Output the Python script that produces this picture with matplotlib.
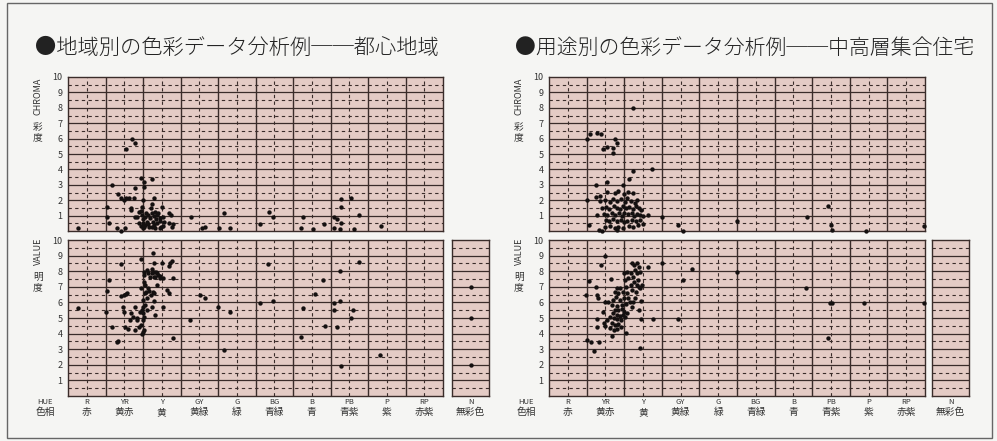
import matplotlib
matplotlib.use('Agg')
import matplotlib.pyplot as plt
import matplotlib.transforms as mtransforms
from matplotlib.patches import Rectangle

plt.rcParams['font.family'] = ['Noto Sans CJK JP', 'DejaVu Sans']

# %%
# labels
hue_codes = ['R', 'YR', 'Y', 'GY', 'G', 'BG', 'B', 'PB', 'P', 'RP']
hue_names = ['赤', '黄赤', '黄', '黄緑', '緑', '青緑', '青', '青紫', '紫', '赤紫']
titles = ['●地域別の色彩データ分析例──都心地域', '●用途別の色彩データ分析例──中高層集合住宅']

# %%
# 都心地域  hue (0-100) / chroma
city_c_hue = [19.4, 19.6, 19.9, 20.1, 20.3, 20.5, 20.8, 21.0, 21.4, 21.7, 21.9, 22.0, 22.3, 22.5,
              22.6, 22.8, 22.9, 23.2, 23.4, 23.6, 23.8, 24.1, 24.4, 24.5, 24.7, 25.0, 25.2, 25.4,
              25.6, 26.8, 27.0, 27.4, 27.6, 28.1, 24.4, 23.2, 22.3, 21.4, 20.6, 19.9, 19.6, 22.8,
              2.7, 17.0, 17.9, 15.5, 11.7, 13.2, 14.1, 14.8, 15.5, 16.3, 17.9, 19.4, 20.3, 20.3,
              22.5, 17.7, 10.3, 10.5, 10.8, 13.0, 14.0, 15.3, 16.7, 16.8, 17.9, 18.5, 18.8, 19.0,
              19.4, 20.1, 32.7, 35.6, 36.5, 40.3, 41.6, 43.2, 51.3, 53.7, 54.6, 62.1, 62.6, 65.4,
              68.3, 70.9, 71.8, 70.9, 72.4, 72.8, 72.7, 72.7, 75.4, 76.3, 77.6, 83.4]
city_c_val = [1.32, 1.04, 0.76, 0.50, 0.24, 0.89, 1.19, 0.61, 1.04, 0.28, 0.82, 1.47, 1.19, 1.75,
              0.61, 0.97, 0.39, 1.26, 0.76, 1.04, 0.50, 1.19, 0.82, 0.67, 0.28, 1.58, 0.93, 0.32,
              0.61, 1.15, 0.54, 1.04, 0.28, 0.45, 0.17, 0.17, 0.28, 0.46, 0.37, 0.17, 1.54, 2.12,
              0.18, 5.97, 5.73, 5.30, 2.97, 2.38, 2.12, 2.00, 2.16, 2.12, 2.80, 3.42, 3.20, 2.88,
              3.40, 2.12, 1.58, 0.89, 0.50, 0.18, 0.02, 0.21, 1.36, 1.50, 0.89, 0.93, 1.25, 0.50,
              0.34, 2.00, 0.93, 0.18, 0.28, 0.18, 1.15, 0.18, 0.44, 1.21, 0.93, 0.18, 0.93, 0.13,
              0.45, 0.93, 0.76, 0.21, 0.13, 0.50, 1.54, 2.06, 2.12, 0.13, 1.04, 0.34]

# 都心地域  hue / value
city_v_hue = [2.7, 10.1, 10.8, 10.5, 14.1, 11.6, 14.0, 14.8, 15.5, 15.7, 14.6, 15.0, 15.2, 16.1,
              16.5, 16.8, 17.4, 17.9, 17.9, 18.3, 18.5, 19.0, 19.1, 19.4, 19.5, 19.6, 19.9, 19.9,
              20.1, 20.3, 20.3, 20.3, 20.5, 20.8, 21.0, 21.1, 21.6, 22.3, 22.6, 22.8, 22.8, 22.9,
              23.0, 23.1, 22.4, 23.4, 23.6, 23.9, 24.5, 25.0, 25.2, 26.3, 26.9, 27.2, 27.6, 28.0,
              26.8, 25.2, 28.1, 22.9, 13.0, 13.2, 20.3, 21.0, 21.4, 21.9, 22.5, 23.2, 23.8, 24.4,
              20.5, 21.4, 22.0, 22.6, 20.1, 20.5, 19.6, 20.3, 19.4, 19.9, 32.5, 35.2, 36.5, 40.1,
              43.2, 41.7, 51.2, 53.4, 54.6, 62.0, 62.6, 65.9, 68.1, 68.5, 71.0, 70.8, 72.4, 71.8,
              72.5, 75.4, 76.1, 77.6, 72.7, 83.2]
city_v_val = [5.66, 5.40, 7.44, 6.73, 8.44, 4.40, 6.43, 6.47, 6.54, 6.60, 5.73, 5.40, 4.40, 4.27,
              4.87, 5.30, 5.04, 5.69, 4.23, 4.87, 5.00, 4.44, 5.40, 6.90, 8.76, 3.97, 4.87, 5.30,
              5.69, 4.23, 7.33, 7.97, 7.10, 6.69, 6.26, 5.50, 6.73, 7.90, 9.15, 8.50, 7.65, 7.97,
              6.63, 5.20, 5.70, 7.97, 7.10, 7.75, 7.54, 8.55, 7.58, 6.80, 6.60, 8.55, 8.66, 7.58,
              8.33, 5.69, 3.70, 6.10, 3.48, 3.55, 7.76, 8.08, 7.86, 7.65, 8.12, 7.65, 7.91, 7.69,
              6.58, 6.90, 6.47, 6.69, 6.15, 5.83, 5.51, 5.08, 4.55, 4.12, 4.87, 6.47, 6.26, 5.73,
              5.40, 2.95, 5.94, 8.44, 6.11, 3.80, 5.62, 6.54, 7.44, 4.51, 5.94, 5.51, 6.11, 4.40,
              8.01, 4.98, 5.51, 8.57, 1.92, 2.63]
city_n_val = [7.0, 5.0, 2.0]

# %%
# 中高層集合住宅  hue / chroma
house_c_hue = [10.0, 10.9, 12.7, 13.8, 14.3, 15.3, 17.1, 17.0, 17.6, 18.2, 22.4, 27.5, 22.3, 21.4,
               19.6, 12.4, 15.5, 10.0, 12.5, 13.5, 12.7, 10.7, 13.4, 14.0, 18.0, 23.8, 25.1, 26.4,
               30.0, 34.4, 35.7, 50.1, 74.3, 68.5, 75.0, 75.2, 84.2, 99.8,
               15.5, 17.6, 18.4, 20.0, 21.1, 22.3,
               13.6, 14.9, 16.2, 17.1, 18.0, 19.1, 20.2, 20.7, 21.7, 22.9, 23.5,
               14.0, 15.2, 16.0, 17.3, 18.2, 18.9, 19.6, 20.5, 21.4, 22.3, 23.1, 24.0, 24.6,
               14.6, 15.5, 16.7, 17.6, 18.7, 19.3, 20.0, 21.1, 22.0, 22.6, 23.5, 24.2, 25.1,
               15.2, 16.0, 17.1, 18.0, 19.1, 20.0, 20.8, 22.0, 23.1, 24.2,
               14.9, 16.2, 17.6, 18.4, 19.8, 21.4, 22.4]
house_c_val = [5.97, 6.28, 6.38, 6.28, 5.30, 5.47, 5.08, 5.40, 5.95, 5.73, 8.00, 4.00, 3.92, 3.36,
               2.99, 2.99, 3.20, 2.00, 2.20, 2.25, 1.04, 0.39, 0.05, 0.02, 0.05, 0.39, 0.45, 1.04,
               0.93, 0.39, 0.02, 0.67, 1.64, 0.93, 0.39, 0.06, 0.02, 0.34,
               2.52, 2.45, 2.58, 2.40, 2.55, 2.47,
               1.95, 2.02, 1.90, 2.05, 1.92, 2.08, 1.88, 2.12, 1.98, 1.85, 2.03,
               1.50, 1.58, 1.45, 1.62, 1.52, 1.40, 1.60, 1.48, 1.56, 1.44, 1.62, 1.50, 1.38,
               1.12, 1.05, 1.18, 1.02, 1.14, 0.98, 1.16, 1.08, 1.20, 1.00, 1.12, 1.06, 0.95,
               0.70, 0.62, 0.75, 0.65, 0.72, 0.60, 0.68, 0.74, 0.63, 0.70,
               0.26, 0.30, 0.20, 0.28, 0.22, 0.32, 0.25]

# 中高層集合住宅  hue / value
house_v_hue = [9.8, 10.0, 11.1, 12.0, 13.4, 10.7, 12.5, 14.9, 13.8, 16.4, 12.7, 13.1, 12.7, 12.7,
               14.4, 14.5, 14.9, 14.9, 16.8, 20.5, 24.2, 24.4, 27.6, 30.0, 34.2, 35.7, 38.1, 49.9,
               24.0, 24.0, 24.5, 26.4, 68.3, 74.7, 75.3, 74.3, 83.9, 99.8,
               22.0, 22.6, 23.3, 24.0, 22.9, 21.7, 20.7, 20.0, 23.3, 24.2, 22.3, 21.1, 20.2, 22.6,
               23.8, 24.7, 21.7, 20.5, 18.9, 18.0, 17.6, 18.4, 19.6, 20.7, 22.0, 23.1, 24.2, 21.1,
               20.0, 18.9, 17.8, 17.1, 15.8, 16.7, 18.0, 19.3, 20.5, 21.5, 22.4, 17.6, 18.4, 19.3,
               20.0, 16.9, 18.0, 18.9, 19.8, 20.7, 16.2, 17.3, 18.2, 19.1, 15.3, 16.7, 17.6, 18.4,
               16.2, 17.3, 18.2, 19.1, 20.2, 22.0, 22.9, 23.3]
house_v_val = [6.47, 3.59, 3.48, 2.88, 3.48, 7.39, 6.97, 8.97, 8.40, 7.48, 6.47, 6.26, 4.92, 4.40,
               5.40, 4.67, 4.50, 6.00, 3.85, 4.06, 3.06, 4.92, 4.92, 8.50, 4.92, 7.44, 8.14, 7.93,
               6.97, 5.50, 6.10, 8.29, 6.94, 5.94, 5.94, 3.70, 5.94, 5.94,
               8.50, 8.40, 8.50, 8.29, 8.08, 7.90, 7.97, 7.86, 7.86, 7.97, 7.65, 7.54, 7.44, 7.33,
               7.44, 7.11, 7.11, 7.01, 6.90, 6.90, 6.69, 6.58, 6.69, 6.58, 6.79, 6.69, 6.90, 6.26,
               6.26, 6.15, 6.37, 6.15, 6.05, 5.83, 5.77, 5.83, 5.90, 6.05, 6.05, 5.51, 5.51, 5.55,
               5.40, 5.30, 5.19, 5.13, 5.19, 5.30, 5.04, 4.98, 4.91, 4.87, 4.87, 4.66, 4.55, 4.61,
               4.34, 4.23, 4.27, 4.44, 5.08, 5.73, 6.26, 7.11]
house_n_val = []

# %%
W, H = 997, 441
panel_bg = '#e4cbc5'
line_c = '#3a2c2a'
dot_c = '#141010'
txt_c = '#333333'

fig = plt.figure(figsize=(W / 100, H / 100), dpi=100, facecolor='#f5f5f3')
# outer frame
fig.patches.append(Rectangle((7 / W, 3 / H), 985 / W, 435 / H, transform=fig.transFigure,
                             fill=False, edgecolor='#666666', lw=1.0))


def px_axes(x0, x1, y0, y1):
    # pixel box -> figure axes
    return fig.add_axes([x0 / W, 1 - y1 / H, (x1 - x0) / W, (y1 - y0) / H])


def draw_grid(ax, hue_cols=True):
    ax.set_facecolor(panel_bg)
    ax.set_ylim(0, 10)
    for k in range(1, 10):
        ax.axhline(k, color=line_c, lw=0.9, zorder=1)
    for k in range(10):
        ax.axhline(k + 0.5, color=line_c, lw=0.8, ls=(0, (3, 3)), zorder=1)
    if hue_cols:
        ax.set_xlim(0, 100)
        for k in range(1, 10):
            ax.axvline(k * 10, color=line_c, lw=1.0, zorder=1)
        for k in range(10):
            ax.axvline(k * 10 + 5, color=line_c, lw=0.8, ls=(0, (3, 3)), zorder=1)
    else:
        ax.set_xlim(0, 1)
    ax.set_xticks([])
    for s in ax.spines.values():
        s.set_color(line_c)
        s.set_linewidth(1.0)


def y_ticks(ax, show=True):
    if show:
        ax.set_yticks(range(1, 11))
        ax.set_yticklabels([str(k) for k in range(1, 11)], fontsize=6.5, color=txt_c)
        ax.tick_params(axis='y', length=0, pad=4)
    else:
        ax.set_yticks([])


def hue_labels(ax):
    tr = mtransforms.blended_transform_factory(ax.transData, ax.transAxes)
    for i in range(10):
        ax.text(i * 10 + 5, -0.04, hue_codes[i], transform=tr, ha='center', va='center',
                fontsize=5.5, color=txt_c)
        ax.text(i * 10 + 5, -0.105, hue_names[i], transform=tr, ha='center', va='center',
                fontsize=7, color=txt_c)


panels = [
    (68, 443, 452, 489, city_c_hue, city_c_val, city_v_hue, city_v_val, city_n_val, 35, 15.3),
    (549, 925, 932, 969, house_c_hue, house_c_val, house_v_hue, house_v_val, house_n_val, 515, 15),
]

for i, (x0, x1, n0, n1, ch, cv, vh, vv, nv, tx, tsize) in enumerate(panels):
    # chroma
    ax1 = px_axes(x0, x1, 77, 231)
    draw_grid(ax1)
    y_ticks(ax1)
    ax1.scatter(ch, cv, s=10, color=dot_c, zorder=3, clip_on=False, linewidths=0)

    # value
    ax2 = px_axes(x0, x1, 240, 396)
    draw_grid(ax2)
    y_ticks(ax2)
    ax2.scatter(vh, vv, s=10, color=dot_c, zorder=3, clip_on=False, linewidths=0)
    hue_labels(ax2)

    # N (無彩色)
    ax3 = px_axes(n0, n1, 240, 396)
    draw_grid(ax3, hue_cols=False)
    y_ticks(ax3, show=False)
    ax3.scatter([0.5] * len(nv), nv, s=10, color=dot_c, zorder=3, linewidths=0)
    ax3.text(0.5, -0.04, 'N', transform=ax3.transAxes, ha='center', va='center',
             fontsize=5.5, color=txt_c)
    ax3.text(0.5, -0.105, '無彩色', transform=ax3.transAxes, ha='center', va='center',
             fontsize=7, color=txt_c)

    # axis names
    lx = (x0 - 30) / W
    fig.text(lx, 1 - 96 / H, 'CHROMA', rotation=90, ha='center', va='center',
             fontsize=6.5, color=txt_c)
    fig.text(lx, 1 - 132 / H, '彩\n度', ha='center', va='center', fontsize=7,
             color=txt_c, linespacing=1.0)
    fig.text(lx, 1 - 251 / H, 'VALUE', rotation=90, ha='center', va='center',
             fontsize=6.5, color=txt_c)
    fig.text(lx, 1 - 282 / H, '明\n度', ha='center', va='center', fontsize=7,
             color=txt_c, linespacing=1.0)
    fig.text((x0 - 23) / W, 1 - 402 / H, 'HUE', ha='center', va='center',
             fontsize=5.5, color=txt_c)
    fig.text((x0 - 23) / W, 1 - 412 / H, '色相', ha='center', va='center',
             fontsize=7, color=txt_c)

    # title
    fig.text(tx / W, 1 - 48 / H, titles[i], ha='left', va='center', fontsize=tsize,
             color='#222222', fontweight='light')

fig.savefig('out.png', dpi=100, facecolor=fig.get_facecolor())
